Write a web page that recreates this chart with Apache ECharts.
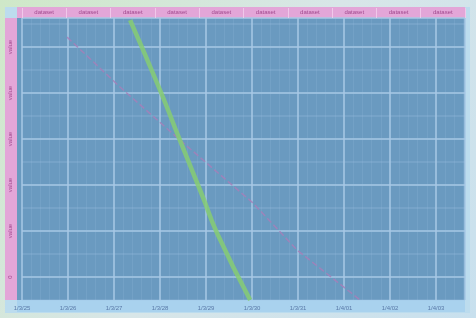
<!DOCTYPE html>
<html>
<head>
<meta charset="utf-8">
<script src="https://cdn.jsdelivr.net/npm/echarts@6/dist/echarts.min.js"></script>
<style>
  html, body { margin: 0; padding: 0; }
  #chart { width: 476px; height: 318px; }
</style>
</head>
<body>
<div id="chart"></div>
<script>
// 数据
var topLabels = ['dataset', 'dataset', 'dataset', 'dataset', 'dataset', 'dataset', 'dataset', 'dataset', 'dataset', 'dataset'];
var bottomLabels = ['1/3/25', '1/3/26', '1/3/27', '1/3/28', '1/3/29', '1/3/30', '1/3/31', '1/4/01', '1/4/02', '1/4/03'];
var leftLabels = ['0', 'value', 'value', 'value', 'value', 'value', 'value'];
var greenX = [2.35, 3.0, 3.43, 3.93, 4.24, 4.96];
var greenY = [12.17, 9.13, 6.96, 4.48, 2.91, 0];
var purpleX = [0.98, 2.13, 3.43, 5.02, 5.98, 7.35];
var purpleY = [11.43, 9.26, 6.96, 4.22, 2.17, 0];

function pairs(xs, ys) {
  return xs.map(function (x, i) { return [x, ys[i]]; });
}

var chart = echarts.init(document.getElementById('chart'));

var option = {
  backgroundColor: new echarts.graphic.LinearGradient(0, 0, 1, 1, [
    { offset: 0, color: '#cfe8c8' },
    { offset: 0.5, color: '#d8e6e8' },
    { offset: 1, color: '#c8e0ee' }
  ]),
  animation: false,
  // 底色块
  graphic: [
    { type: 'rect', shape: { x: 5, y: 7, width: 465, height: 306 }, style: { fill: '#bcdcee' }, z: -10 },
    { type: 'rect', shape: { x: 17, y: 18, width: 448, height: 282 }, style: { fill: '#6a9ac0' }, z: -9 },
    { type: 'rect', shape: { x: 17, y: 7, width: 448, height: 11 }, style: { fill: '#e3a6d8' }, z: -9 },
    { type: 'rect', shape: { x: 5, y: 18, width: 12, height: 282 }, style: { fill: '#e3a6d8' }, z: -9 },
    { type: 'rect', shape: { x: 17, y: 300, width: 448, height: 12 }, style: { fill: '#a9d2ee' }, z: -9 }
  ],
  grid: { left: 22, right: 11, top: 18, bottom: 18 },
  xAxis: [
    {
      type: 'value',
      min: 0,
      max: 9.63,
      interval: 1,
      axisLine: { show: false },
      axisTick: { show: false },
      axisLabel: {
        fontSize: 6,
        color: '#5a7aa8',
        margin: 5,
        showMaxLabel: false,
        formatter: function (v) { return bottomLabels[Math.round(v)] || ''; }
      },
      splitLine: { lineStyle: { color: '#a8c8e6', width: 1.5 } },
      minorTick: { show: false, splitNumber: 5 },
      minorSplitLine: { show: true, lineStyle: { color: 'rgba(160,195,225,0.18)', width: 1 } }
    },
    {
      type: 'category',
      position: 'top',
      data: topLabels,
      axisLine: { show: false },
      axisTick: { show: true, length: 10, inside: false, lineStyle: { color: '#f0c8ea' } },
      axisLabel: { fontSize: 6, color: '#a24a8e', margin: 3 },
      splitLine: { show: false }
    }
  ],
  yAxis: {
    type: 'value',
    min: 0,
    max: 12.26,
    interval: 1,
    axisLine: { show: false },
    axisTick: { show: false },
    axisLabel: {
      fontSize: 6,
      color: '#a24a8e',
      rotate: 90,
      margin: 9,
      showMaxLabel: false,
      formatter: function (v) { return v % 2 === 1 ? (leftLabels[(v - 1) / 2] || '') : ''; }
    },
    splitLine: { lineStyle: { color: ['rgba(160,195,225,0.3)', '#a8c8e6'], width: 1.5 } }
  },
  series: [
    {
      type: 'line',
      data: pairs(purpleX, purpleY),
      symbol: 'none',
      smooth: false,
      lineStyle: { color: '#a67fb8', width: 1.5, type: 'dashed', opacity: 0.85 }
    },
    {
      type: 'line',
      data: pairs(greenX, greenY),
      symbol: 'none',
      smooth: true,
      lineStyle: { color: '#86cc72', width: 4.5, opacity: 0.85 }
    }
  ]
};

chart.setOption(option);
</script>
</body>
</html>
